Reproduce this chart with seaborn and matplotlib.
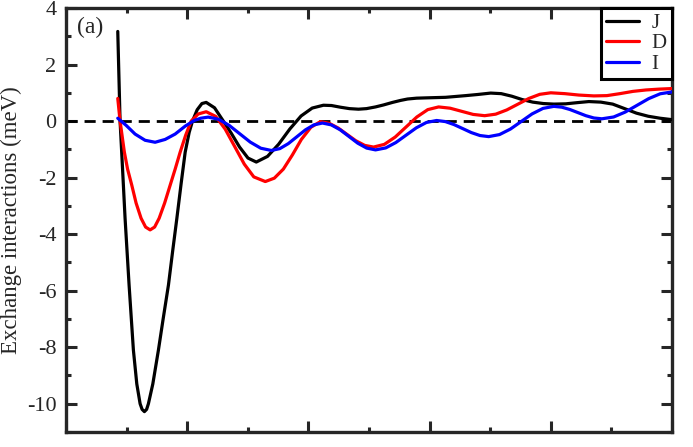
import numpy as np
import pandas as pd
import seaborn as sns
import matplotlib.pyplot as plt
from matplotlib.ticker import MultipleLocator

# values (x in axis units 0..5)
j_x = [0.4273, 0.4463, 0.4669, 0.4876, 0.5207, 0.5562, 0.5843, 0.6116, 0.6281,
       0.6471, 0.6653, 0.6802, 0.7165, 0.7628, 0.8017, 0.8455, 0.8802, 0.9149,
       0.9504, 0.9835, 1.0165, 1.0438, 1.0826, 1.1215, 1.1570, 1.2256, 1.2950,
       1.3636, 1.4322, 1.5017, 1.5702, 1.6628, 1.7545, 1.8471, 1.9397, 2.0314,
       2.1240, 2.1901, 2.2645, 2.3388, 2.4132, 2.4793, 2.5537, 2.6198, 2.6942,
       2.7603, 2.8182, 2.8926, 2.9669, 3.0496, 3.1322, 3.2149, 3.2975, 3.3967,
       3.5041, 3.5909, 3.6777, 3.7645, 3.8512, 3.9380, 4.0248, 4.1240, 4.2149,
       4.3140, 4.4132, 4.5107, 4.6091, 4.7066, 4.8041, 4.9025, 5.0000]
j_y = [3.17, 0.00, -1.70, -3.44, -5.80, -8.10, -9.30, -10.00, -10.20,
       -10.28, -10.20, -10.00, -9.30, -8.10, -7.00, -5.80, -4.60, -3.44,
       -2.20, -1.10, -0.40, 0.00, 0.40, 0.62, 0.66, 0.47, 0.02,
       -0.43, -0.92, -1.309, -1.45, -1.25, -0.82, -0.28, 0.18, 0.46,
       0.56, 0.55, 0.49, 0.44, 0.42, 0.44, 0.50, 0.57, 0.66,
       0.73, 0.78, 0.81, 0.82, 0.83, 0.84, 0.87, 0.90, 0.94,
       0.99, 0.97, 0.88, 0.76, 0.67, 0.62, 0.60, 0.61, 0.65,
       0.69, 0.67, 0.60, 0.44, 0.28, 0.17, 0.10, 0.05]

d_x = [0.4273, 0.4463, 0.4818, 0.5083, 0.5430, 0.5785, 0.6198, 0.6570, 0.6942,
       0.7314, 0.7686, 0.8140, 0.8595, 0.9008, 0.9421, 0.9876, 1.0331, 1.0909,
       1.1570, 1.2355, 1.3140, 1.3926, 1.4711, 1.5496, 1.6446, 1.7190, 1.7934,
       1.8678, 1.9421, 2.0207, 2.0992, 2.1719, 2.2455, 2.3182, 2.3909, 2.4645,
       2.5372, 2.6264, 2.7165, 2.8058, 2.8950, 2.9851, 3.0744, 3.1694, 3.2645,
       3.3595, 3.4545, 3.5455, 3.6364, 3.7273, 3.8182, 3.9091, 4.0000, 4.1157,
       4.2314, 4.3554, 4.4628, 4.5702, 4.6777, 4.7851, 4.8926, 5.0000]
d_y = [0.80, 0.00, -1.10, -1.70, -2.27, -2.90, -3.44, -3.75, -3.85,
       -3.75, -3.44, -2.90, -2.27, -1.70, -1.10, -0.50, 0.00, 0.25,
       0.33, 0.165, -0.288, -0.905, -1.523, -1.975, -2.14, -2.02, -1.70,
       -1.20, -0.65, -0.22, -0.02, -0.08, -0.245, -0.47, -0.695, -0.86,
       -0.92, -0.825, -0.565, -0.21, 0.145, 0.405, 0.50, 0.455, 0.345,
       0.235, 0.19, 0.244, 0.393, 0.595, 0.798, 0.946, 1.00, 0.97,
       0.92, 0.89, 0.90, 0.97, 1.05, 1.10, 1.13, 1.15]

i_x = [0.4273, 0.4959, 0.5702, 0.6529, 0.7355, 0.8182, 0.9008, 0.9835, 1.0579,
       1.1116, 1.1736, 1.2603, 1.3471, 1.4339, 1.5207, 1.6074, 1.6942, 1.7645,
       1.8347, 1.9050, 1.9752, 2.0455, 2.1157, 2.1884, 2.2620, 2.3347, 2.4074,
       2.4810, 2.5537, 2.6380, 2.7215, 2.8058, 2.8901, 2.9736, 3.0579, 3.1298,
       3.2008, 3.2727, 3.3446, 3.4157, 3.4876, 3.5769, 3.6669, 3.7562, 3.8455,
       3.9355, 4.0248, 4.0909, 4.1570, 4.2231, 4.2893, 4.3554, 4.4215, 4.5182,
       4.6140, 4.7107, 4.8074, 4.9033, 5.0000]
i_y = [0.10, -0.15, -0.46, -0.68, -0.75, -0.65, -0.46, -0.18, 0.02,
       0.10, 0.14, 0.061, -0.155, -0.45, -0.745, -0.961, -1.04, -0.975,
       -0.797, -0.555, -0.313, -0.135, -0.07, -0.134, -0.308, -0.545, -0.783,
       -0.956, -1.02, -0.95, -0.76, -0.50, -0.24, -0.05, 0.02, -0.018,
       -0.123, -0.265, -0.408, -0.512, -0.55, -0.478, -0.283, -0.015, 0.253,
       0.448, 0.52, 0.491, 0.41, 0.30, 0.19, 0.109, 0.08, 0.144,
       0.318, 0.555, 0.793, 0.966, 1.03]

names = ["J", "D", "I"]
colors = ["black", "#ff0000", "#0000ff"]

df = pd.concat([
    pd.DataFrame({"x": j_x, "y": j_y, "kind": "J"}),
    pd.DataFrame({"x": d_x, "y": d_y, "kind": "D"}),
    pd.DataFrame({"x": i_x, "y": i_y, "kind": "I"}),
])

sns.set_style("ticks")
plt.rcParams["font.family"] = ["Liberation Serif", "DejaVu Serif"]

fig = plt.figure(figsize=(6.93, 4.47), dpi=100)
ax = fig.add_axes([0.0952, 0.0336, 0.8745, 0.9485])

ax.axhline(0, color="black", lw=2, ls=(0, (4, 2.5)), zorder=1)
sns.lineplot(data=df, x="x", y="y", hue="kind", hue_order=names,
             palette=colors, estimator=None, sort=False, lw=2.3, ax=ax,
             legend=False, zorder=3, solid_joinstyle="round")

ax.set_xlim(0, 5)
ax.set_ylim(-11, 4)
ax.xaxis.set_major_locator(MultipleLocator(1))
ax.xaxis.set_minor_locator(MultipleLocator(0.5))
ax.yaxis.set_major_locator(MultipleLocator(2))
ax.yaxis.set_minor_locator(MultipleLocator(1))
ax.tick_params(which="both", direction="in", top=True, right=True, width=2.2)
ax.tick_params(which="major", length=8, labelsize=16, pad=7)
ax.tick_params(which="minor", length=3.5)
ax.tick_params(axis="x", labelbottom=False)
ax.set_yticks([4, 2, 0, -2, -4, -6, -8, -10])
ax.set_yticklabels(["4", "2", "0", "-2", "-4", "-6", "-8", "-10"])
for s in ax.spines.values():
    s.set_linewidth(2.4)

ax.set_xlabel("")
ax.set_ylabel("Exchange interactions (meV)", fontsize=16.5, labelpad=3)
ax.text(0.018, 0.978, "(a)", transform=ax.transAxes, fontsize=17, va="top")

handles = [plt.Line2D([], [], color=c, lw=2.3) for c in colors]
leg = ax.legend(handles, names, loc="upper right", fontsize=15, frameon=True,
                fancybox=False, borderaxespad=0, handlelength=1.6,
                handletextpad=0.6, labelspacing=0.05, borderpad=0.25)
leg.get_frame().set_edgecolor("black")
leg.get_frame().set_linewidth(2.2)
leg.get_frame().set_alpha(1)

fig.savefig("out.png", dpi=100)
